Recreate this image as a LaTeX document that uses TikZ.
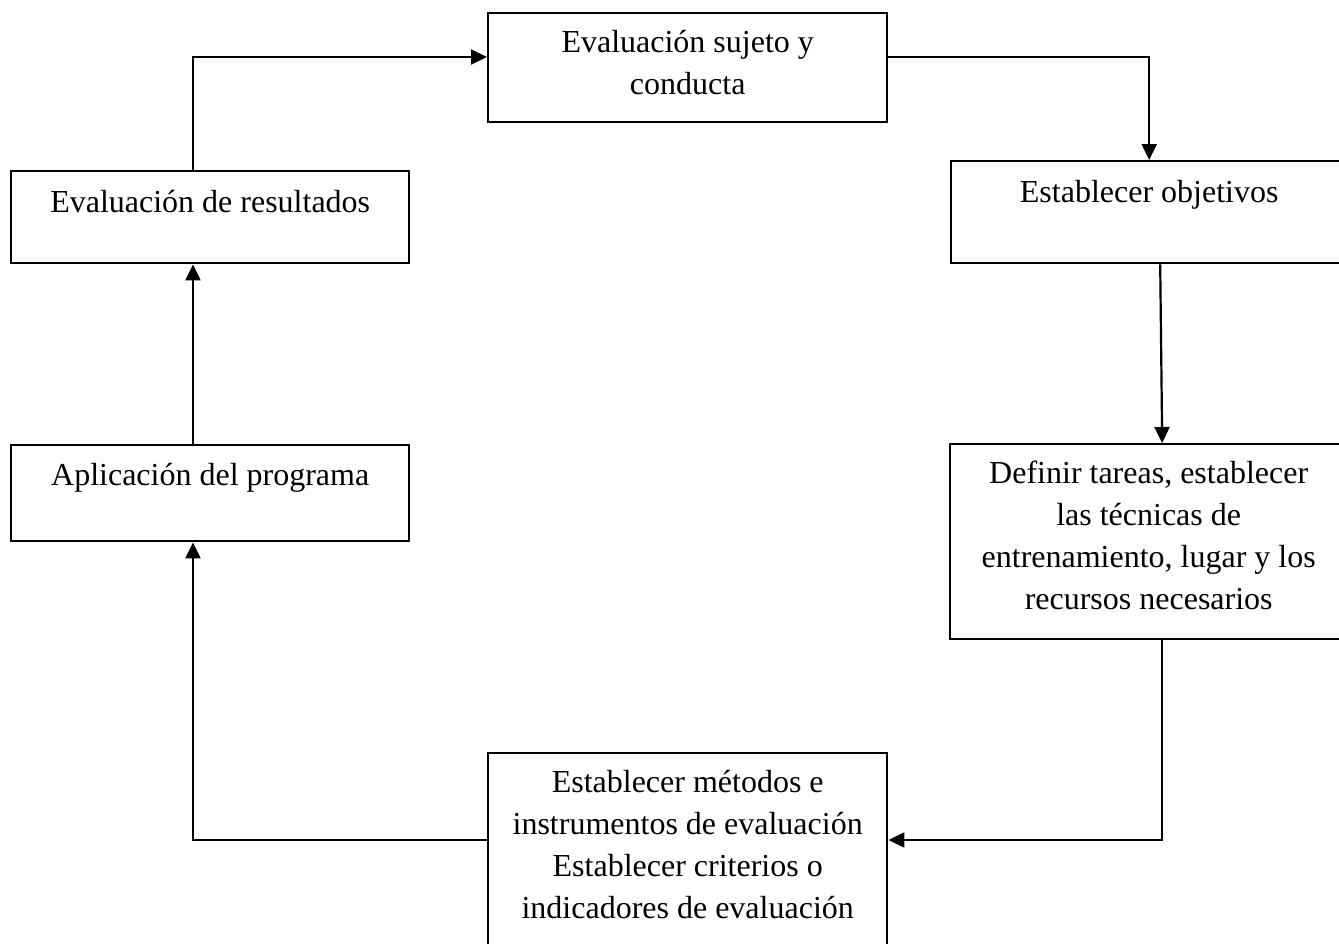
\documentclass[tikz,border=0pt]{standalone}
\usepackage{fontspec}
\setmainfont{Liberation Serif}
\usetikzlibrary{arrows.meta}
\tikzset{
  box/.style={draw, line width=1.2pt, rectangle, inner sep=0pt, anchor=north west},
  txt/.style={inner sep=0pt, align=center, anchor=base, font=\fontsize{16pt}{21pt}\selectfont},
  mtxt/.style={txt, anchor=north},
  arr/.style={line width=1.1pt, -{Triangle[length=8pt,width=7.5pt]}}
}
\begin{document}
\begin{tikzpicture}[x=0.5pt,y=-0.5pt]
\useasboundingbox (0,0) rectangle (1339,943);
% boxes
\node[box, minimum width=199.5pt, minimum height=54.5pt] (top) at (487,12) {};
\node[box, minimum width=198pt, minimum height=51pt] (obj) at (950,160) {};
\node[box, minimum width=198.5pt, minimum height=97.5pt] (def) at (949,443) {};
\node[box, minimum width=199.5pt, minimum height=105pt] (meth) at (487,752) {};
\node[box, minimum width=199pt, minimum height=46pt] (res) at (10,170) {};
\node[box, minimum width=199pt, minimum height=48pt] (apl) at (10,444) {};
% texts
\node[mtxt] (ttop) at ([yshift=-9pt]top.north) {Evaluación sujeto y\\conducta};
\node[txt] (tobj) at ([yshift=-21pt]obj.north) {Establecer objetivos};
\node[mtxt] (tdef) at ([yshift=-9pt]def.north) {Definir tareas, establecer\\las técnicas de\\entrenamiento, lugar y los\\recursos necesarios};
\node[mtxt] (tmeth) at ([yshift=-9pt]meth.north) {Establecer métodos e\\instrumentos de evaluación\\Establecer criterios o\\indicadores de evaluación};
\node[txt] (tres) at ([yshift=-21pt]res.north) {Evaluación de resultados};
\node[txt] (tapl) at ([yshift=-20.5pt]apl.north) {Aplicación del programa};
% helper coordinates
\coordinate (yA) at (0,57);
\coordinate (yB) at (0,840);
\coordinate (xL) at (193,0);
% connectors
\draw[arr] (top.east |- yA) -| (obj.north);
\draw[arr] ([xshift=5.5pt]obj.south) -- ([xshift=6.75pt]def.north);
\draw[arr] ([xshift=6.75pt]def.south) |- (meth.east |- yB);
\draw[arr] (meth.west |- yB) -| (apl.south -| xL);
\draw[arr] (apl.north -| xL) -- (res.south -| xL);
\draw[arr] (res.north -| xL) |- (top.west |- yA);
\end{tikzpicture}
\end{document}
